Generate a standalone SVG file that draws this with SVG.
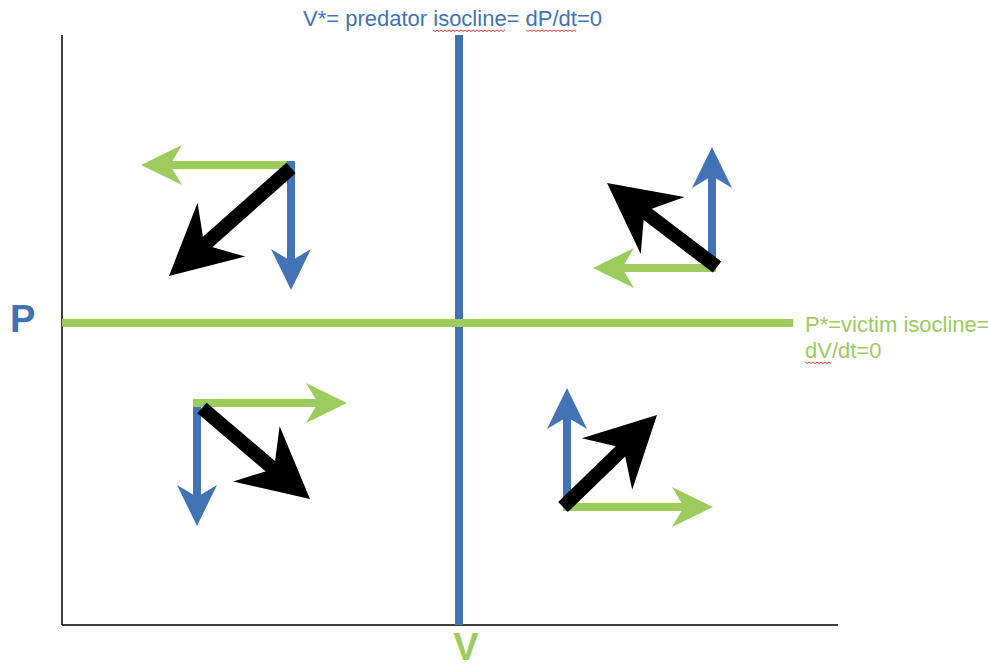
<svg xmlns="http://www.w3.org/2000/svg" xmlns:xlink="http://www.w3.org/1999/xlink" width="988" height="668" viewBox="0 0 988 668">
<style>
.ax{stroke:#000;stroke-width:1.5;fill:none}
.bl{stroke:#4273b6;fill:none}
.gr{stroke:#9dcb5e;fill:none}
.bk{stroke:#000;fill:none;stroke-width:14}
.thin{stroke-width:8}
.iso{stroke-width:8}
.tb{font-family:"Liberation Sans",Arial,sans-serif;font-size:22px;fill:#4273b6}
.tg{font-family:"Liberation Sans",Arial,sans-serif;font-size:22px;fill:#9dcb5e}
.big{font-family:"Liberation Sans",Arial,sans-serif;font-size:38px;font-weight:bold}
.sq{stroke:#e0443a;stroke-width:1;fill:none}
</style>
<defs>
<path id="hb" d="M0,0 L-41,-20 L-29,0 L-41,20 Z" fill="#4273b6"/>
<path id="hg" d="M0,0 L-41,-20 L-29,0 L-41,20 Z" fill="#9dcb5e"/>
<path id="hk" d="M0,0 L-70,-36 L-47,0 L-70,36 Z" fill="#000"/>
</defs>
<g id="axes">
<line class="ax" x1="62" y1="35" x2="62" y2="625"/>
<line class="ax" x1="62" y1="625" x2="838" y2="625"/>
</g>
<g id="isoclines">
<line class="bl iso" x1="459" y1="35" x2="459" y2="625"/>
<line class="gr iso" x1="62" y1="323" x2="793" y2="323"/>
</g>
<g id="label-title">
<text class="tb" x="303" y="26">V*= predator isocline= dP/dt=0</text>
<path class="sq" d="M433,30 l2,1.5 l2,-1.5 l2,1.5 l2,-1.5 l2,1.5 l2,-1.5 l2,1.5 l2,-1.5 l2,1.5 l2,-1.5 l2,1.5 l2,-1.5 l2,1.5 l2,-1.5 l2,1.5 l2,-1.5 l2,1.5 l2,-1.5 l2,1.5 l2,-1.5 l2,1.5 l2,-1.5 l2,1.5 l2,-1.5 l2,1.5 l2,-1.5 l2,1.5 l2,-1.5 l2,1.5 l2,-1.5 l2,1.5 l2,-1.5 l2,1.5 l2,-1.5 l2,1.5 l2,-1.5"/>
<path class="sq" d="M526,30 l2,1.5 l2,-1.5 l2,1.5 l2,-1.5 l2,1.5 l2,-1.5 l2,1.5 l2,-1.5 l2,1.5 l2,-1.5 l2,1.5 l2,-1.5 l2,1.5 l2,-1.5 l2,1.5 l2,-1.5 l2,1.5 l2,-1.5 l2,1.5 l2,-1.5 l2,1.5 l2,-1.5 l2,1.5 l2,-1.5 l2,1.5"/>
</g>
<g id="label-victim">
<text class="tg" x="805" y="332">P*=victim isocline=</text>
<text class="tg" x="805" y="358">dV/dt=0</text>
<path class="sq" d="M805,362 l2,1.5 l2,-1.5 l2,1.5 l2,-1.5 l2,1.5 l2,-1.5 l2,1.5 l2,-1.5 l2,1.5 l2,-1.5 l2,1.5 l2,-1.5 l2,1.5"/>
</g>
<g id="label-P"><text class="big" x="10" y="332" fill="#4273b6">P</text></g>
<g id="label-V"><text class="big" x="466" y="660" text-anchor="middle" fill="#9dcb5e">V</text></g>
<g id="connectors">
<g id="q-top-left">
<line class="gr thin" x1="290" y1="165" x2="170" y2="165"/>
<use xlink:href="#hg" transform="translate(141,165) rotate(180)"/>
<line class="bl thin" x1="291" y1="161" x2="291" y2="262"/>
<use xlink:href="#hb" transform="translate(291,290) rotate(90)"/>
<line class="bk" x1="291" y1="168" x2="202" y2="247"/>
<use xlink:href="#hk" transform="translate(169,276) rotate(138.5)"/>
</g>
<g id="q-top-right">
<line class="bl thin" x1="712" y1="272" x2="712" y2="176"/>
<use xlink:href="#hb" transform="translate(712,147) rotate(-90)"/>
<line class="gr thin" x1="716" y1="268" x2="622" y2="268"/>
<use xlink:href="#hg" transform="translate(593,268) rotate(180)"/>
<line class="bk" x1="717" y1="267" x2="642" y2="210"/>
<use xlink:href="#hk" transform="translate(607,183) rotate(-142.6)"/>
</g>
<g id="q-bottom-left">
<line class="bl thin" x1="197" y1="399" x2="197" y2="497"/>
<use xlink:href="#hb" transform="translate(197,526) rotate(90)"/>
<line class="gr thin" x1="193" y1="403" x2="318" y2="403"/>
<use xlink:href="#hg" transform="translate(347,403)"/>
<line class="bk" x1="202" y1="408" x2="276" y2="471"/>
<use xlink:href="#hk" transform="translate(310,499) rotate(40.1)"/>
</g>
<g id="q-bottom-right">
<line class="bl thin" x1="567" y1="511" x2="567" y2="417"/>
<use xlink:href="#hb" transform="translate(567,388) rotate(-90)"/>
<line class="gr thin" x1="563" y1="507" x2="684" y2="507"/>
<use xlink:href="#hg" transform="translate(713,507)"/>
<line class="bk" x1="563" y1="507" x2="626" y2="446"/>
<use xlink:href="#hk" transform="translate(657,415) rotate(-44.4)"/>
</g>
</g>
</svg>
